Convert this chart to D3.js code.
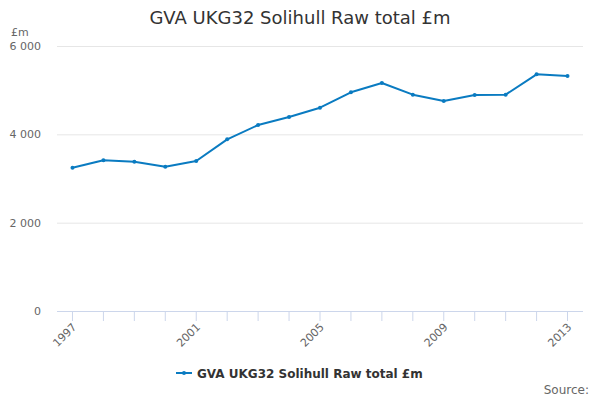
<!DOCTYPE html>
<html>
<head>
<meta charset="utf-8">
<script src="https://cdn.jsdelivr.net/npm/d3@7"></script>
<style>
  body { margin: 0; background: #fff; }
  svg { font-family: "DejaVu Sans", sans-serif; }
</style>
</head>
<body>
<div id="chart"></div>
<script>
const title = "GVA UKG32 Solihull Raw total £m";
const seriesName = "GVA UKG32 Solihull Raw total £m";
const years = ["1997", "1998", "1999", "2000", "2001", "2002", "2003", "2004", "2005",
  "2006", "2007", "2008", "2009", "2010", "2011", "2012", "2013"];
const values = [3244, 3412, 3381, 3268, 3396, 3887, 4211, 4392, 4603,
  4951, 5162, 4898, 4755, 4890, 4898, 5359, 5321];
const yTicks = [0, 2000, 4000, 6000];
const xLabels = ["1997", "2001", "2005", "2009", "2013"];

const width = 600, height = 400;
const margin = { top: 46, right: 17, bottom: 89, left: 57 };
const color = "#0a7bc1";

const svg = d3.select("#chart").append("svg")
  .attr("width", width).attr("height", height);

const x = d3.scaleBand().domain(years)
  .range([margin.left, width - margin.right]);
const y = d3.scaleLinear().domain([0, 6000])
  .range([height - margin.bottom, margin.top]);
const cx = d => x(d) + x.bandwidth() / 2;

const fmt = v => d3.format(",")(v).replace(/,/g, " ");

// title
svg.append("text")
  .attr("x", width / 2).attr("y", 24)
  .attr("text-anchor", "middle")
  .attr("fill", "#333").style("font-size", "18px")
  .text(title);

// unit label
svg.append("text")
  .attr("x", 11).attr("y", 36)
  .attr("fill", "#666").style("font-size", "11px")
  .text("£m");

// grid lines + y labels
const yAxis = svg.append("g")
  .attr("transform", `translate(${margin.left},0)`)
  .call(d3.axisLeft(y).tickValues(yTicks)
    .tickSize(-(width - margin.left - margin.right))
    .tickPadding(16).tickFormat(fmt));
yAxis.select(".domain").remove();
yAxis.selectAll(".tick line").attr("stroke", "#e6e6e6");
yAxis.selectAll(".tick text")
  .attr("fill", "#666").style("font-size", "11px")
  .style("font-family", "DejaVu Sans, sans-serif");

// x axis
const xAxis = svg.append("g")
  .attr("transform", `translate(0,${height - margin.bottom})`)
  .call(d3.axisBottom(x).tickSize(10)
    .tickFormat(d => xLabels.includes(d) ? d : ""));
xAxis.select(".domain").attr("stroke", "#ccd6eb")
  .attr("d", `M${margin.left},0.5H${width - margin.right}`);
xAxis.selectAll(".tick line").attr("stroke", "#ccd6eb");
xAxis.selectAll(".tick text")
  .attr("fill", "#666").style("font-size", "11px")
  .style("font-family", "DejaVu Sans, sans-serif")
  .attr("text-anchor", "end")
  .attr("x", 0).attr("y", 0).attr("dy", "0.35em")
  .attr("transform", "translate(2,14) rotate(-45)");

// line
const line = d3.line()
  .x((d, i) => cx(years[i]))
  .y(d => y(d));

svg.append("path")
  .datum(values)
  .attr("fill", "none")
  .attr("stroke", color)
  .attr("stroke-width", 2)
  .attr("stroke-linejoin", "round")
  .attr("d", line);

svg.selectAll(".dot")
  .data(values)
  .enter().append("circle")
  .attr("class", "dot")
  .attr("cx", (d, i) => cx(years[i]))
  .attr("cy", d => y(d))
  .attr("r", 2)
  .attr("fill", color);

// legend
const lg = svg.append("g").attr("transform", "translate(176,373)");
lg.append("line")
  .attr("x1", 0).attr("x2", 16).attr("y1", 0).attr("y2", 0)
  .attr("stroke", color).attr("stroke-width", 2);
lg.append("circle").attr("cx", 8).attr("cy", 0).attr("r", 2).attr("fill", color);
lg.append("text")
  .attr("x", 21).attr("y", 4.5)
  .attr("fill", "#333").style("font-size", "12px").style("font-weight", "bold")
  .text(seriesName);

// source
svg.append("text")
  .attr("x", 589).attr("y", 394)
  .attr("text-anchor", "end")
  .attr("fill", "#666").style("font-size", "12px")
  .text("Source:");
</script>
</body>
</html>
